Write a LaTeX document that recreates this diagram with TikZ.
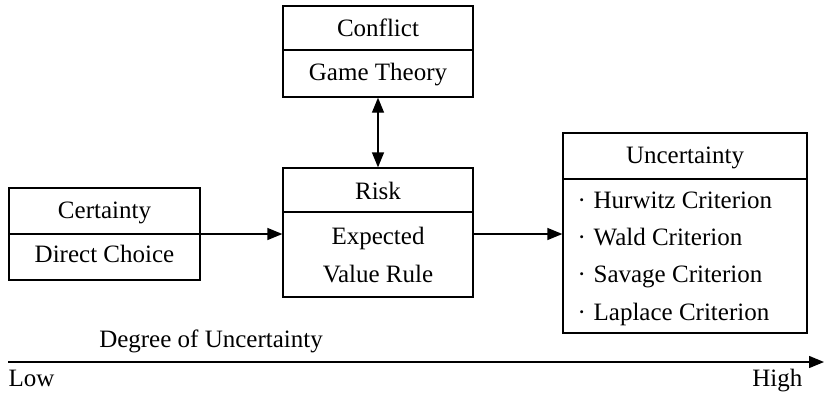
\documentclass[tikz,border=0pt]{standalone}
\usepackage{fontspec}
\setmainfont{Liberation Serif}
\usetikzlibrary{arrows.meta}
\begin{document}
\begin{tikzpicture}[x=1pt,y=-1pt,line width=1.3pt,
  font=\fontsize{25}{30}\selectfont,
  box/.style={draw,rectangle,inner sep=0pt},
  lbl/.style={anchor=base,inner sep=0pt},
  lbll/.style={anchor=base west,inner sep=0pt},
  arr/.style={-{Triangle[length=15pt,width=12pt]}},
  darr/.style={{Triangle[length=15pt,width=12pt]}-{Triangle[length=15pt,width=12pt]}}]
\useasboundingbox (0,0) rectangle (824,394);
% boxes
\node[box,minimum width=191pt,minimum height=92pt] (cert) at (104.5,234) {};
\node[box,minimum width=190pt,minimum height=91pt] (conf) at (378,51.5) {};
\node[box,minimum width=190pt,minimum height=129pt] (risk) at (378,232.5) {};
\node[box,minimum width=244pt,minimum height=200pt] (unc) at (685,233) {};
% dividers
\draw (cert.west) -- (cert.east);
\draw (conf.west |- 0,50) -- (conf.east |- 0,50);
\draw (risk.west |- 0,212) -- (risk.east |- 0,212);
\draw (unc.west |- 0,179) -- (unc.east |- 0,179);
% texts
\node[lbl] (t1) at (104.5,218) {Certainty};
\node[lbl] (t2) at (104.5,262) {Direct Choice};
\node[lbl] (t3) at (378,36) {Conflict};
\node[lbl] (t4) at (378,80) {Game Theory};
\node[lbl] (t5) at (378,199) {Risk};
\node[lbl] (t6) at (378,244) {Expected};
\node[lbl] (t7) at (378,282) {Value Rule};
\node[lbl] (t8) at (685,163) {Uncertainty};
\node[lbll] (u1) at (577,208) {\makebox[16pt][l]{·}Hurwitz Criterion};
\node[lbll] (u2) at (577,245) {\makebox[16pt][l]{·}Wald Criterion};
\node[lbll] (u3) at (577,282) {\makebox[16pt][l]{·}Savage Criterion};
\node[lbll] (u4) at (577,320) {\makebox[16pt][l]{·}Laplace Criterion};
% connectors
\draw[arr] (cert.east) -- (cert.east -| risk.west);
\draw[arr] (risk.east |- cert.east) -- (unc.west |- cert.east);
\draw[darr] (conf.south) -- (risk.north);
% axis
\coordinate (a0) at (8,362);
\coordinate (a1) at (824,362);
\draw[arr,line width=1.4pt] (a0) -- (a1);
\node[lbl] (deg) at (211,347) {Degree of Uncertainty};
\node[lbll] (low) at (8,386) {Low};
\node[anchor=base east,inner sep=0pt] (high) at (803,386) {High};
\end{tikzpicture}
\end{document}
